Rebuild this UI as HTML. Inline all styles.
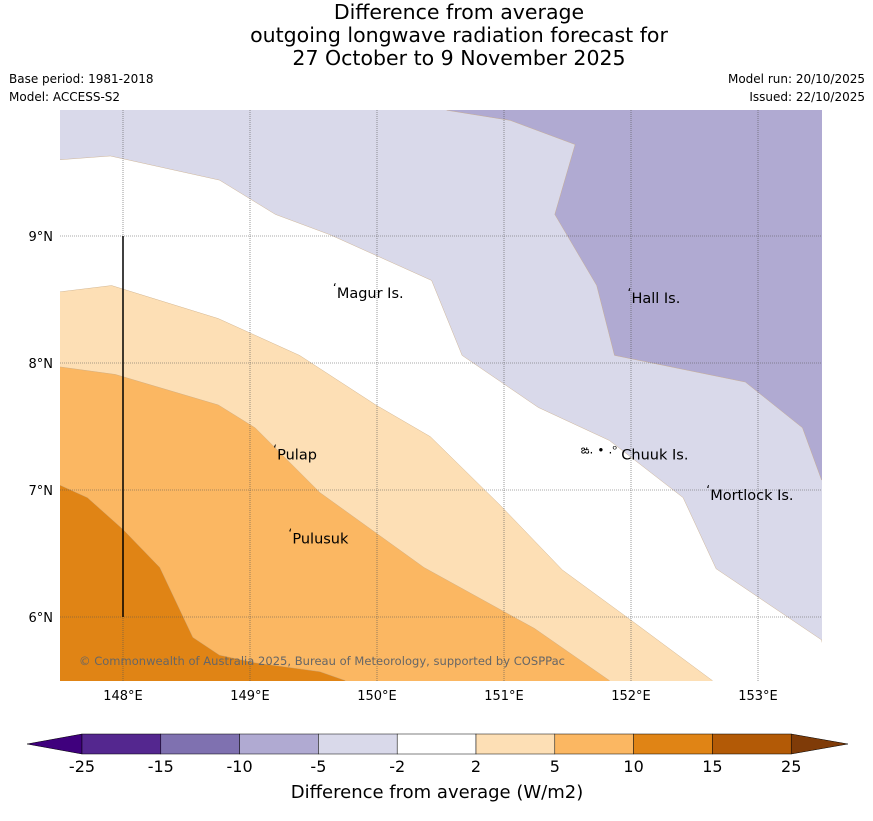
<!DOCTYPE html>
<html><head><meta charset="utf-8"><style>
body{margin:0;background:#fff;font-family:"Liberation Sans","DejaVu Sans",sans-serif;}
svg text{font-family:"DejaVu Sans","Liberation Sans",sans-serif;}
</style></head><body>
<svg id="chart" width="873" height="816" xmlns="http://www.w3.org/2000/svg">
<text x="459" y="19" font-size="20.5" text-anchor="middle">Difference from average</text>
<text x="459" y="42" font-size="20.5" text-anchor="middle">outgoing longwave radiation forecast for</text>
<text x="459" y="65" font-size="20.5" text-anchor="middle">27 October to 9 November 2025</text>
<text x="9" y="83" font-size="12">Base period: 1981-2018</text>
<text x="9" y="101" font-size="12">Model: ACCESS-S2</text>
<text x="865" y="83" font-size="12" text-anchor="end">Model run: 20/10/2025</text>
<text x="865" y="101" font-size="12" text-anchor="end">Issued: 22/10/2025</text>
<defs><clipPath id="mc"><rect x="60" y="110" width="762" height="571"/></clipPath></defs>
<g id="map" clip-path="url(#mc)"></g>
<g id="cb"></g>
<text x="437" y="798" font-size="18" text-anchor="middle">Difference from average (W/m2)</text>
</svg>
<script>
const NS="http://www.w3.org/2000/svg";
const purpleLon=[150.55,151.05,151.56,151.40,151.73,151.87,152.90,153.35,153.5];
const purpleLat=[9.99,9.91,9.72,9.17,8.61,8.06,7.85,7.49,7.08];
const lavLon=[147.5,147.90,148.76,149.20,149.63,150.43,150.67,151.27,151.83,152.41,152.67,153.5];
const lavLat=[9.60,9.63,9.44,9.17,9.01,8.65,8.06,7.65,7.39,6.94,6.38,5.82];
const lorLon=[147.5,147.91,148.75,149.39,149.99,150.42,150.97,151.46,152.02,152.64];
const lorLat=[8.56,8.61,8.35,8.06,7.67,7.42,6.88,6.37,5.96,5.5];
const orLon=[147.5,147.94,148.75,149.04,149.55,150.37,151.24,151.83];
const orLat=[7.97,7.91,7.67,7.49,6.98,6.39,5.91,5.5];
const dkLon=[147.5,147.72,148.0,148.29,148.55,148.76,149.04,149.55,149.75];
const dkLat=[7.04,6.94,6.69,6.39,5.84,5.70,5.64,5.57,5.5];
const lonTicks=[148,149,150,151,152,153];
const latTicks=[6,7,8,9];
const places=["Magur Is.","Hall Is.","Pulap","Chuuk Is.","Mortlock Is.","Pulusuk"];
const placeLon=[149.66,151.98,149.19,151.90,152.60,149.31];
const placeLat=[8.55,8.51,7.28,7.28,6.96,6.62];
const cbLevels=["-25","-15","-10","-5","-2","2","5","10","15","25"];
const cbColors=["#54278f","#7f71b0","#b0aad2","#d9d9ea","#ffffff","#fddfb5","#fbb762","#e08415","#b35a06"];
const X=lon=>59.5+(lon-147.5)*127, Y=lat=>236+(9-lat)*127;
const map=document.getElementById('map');
function poly(lons,lats,extra,fill,name){
  const p=document.createElementNS(NS,'polygon');
  const pts=lons.map((l,i)=>[l,lats[i]]).concat(extra).map(q=>X(q[0])+','+Y(q[1])).join(' ');
  p.setAttribute('points',pts);p.setAttribute('fill',fill);p.setAttribute('stroke','#c8a882');p.setAttribute('stroke-width','0.4');
  
  
  map.appendChild(p);
}
const bg=document.createElementNS(NS,'rect');bg.setAttribute('x',60);bg.setAttribute('y',110);bg.setAttribute('width',762);bg.setAttribute('height',571);bg.setAttribute('fill','#fff');map.appendChild(bg);
poly(lavLon,lavLat,[[153.6,5.4],[153.6,10.1],[147.4,10.1]],'#d9d9ea','contour-neg5-neg2');
poly(purpleLon,purpleLat,[[153.6,7.08],[153.6,10.1],[150.55,10.1]],'#b0aad2','contour-neg10-neg5');
poly(lorLon,lorLat,[[152.64,5.4],[147.4,5.4],[147.4,8.56]],'#fddfb5','contour-2-5');
poly(orLon,orLat,[[151.83,5.4],[147.4,5.4],[147.4,7.97]],'#fbb762','contour-5-10');
poly(dkLon,dkLat,[[149.75,5.4],[147.4,5.4],[147.4,7.04]],'#e08415','contour-10-15');
const svg=document.getElementById('chart');
lonTicks.forEach(l=>{const g=document.createElementNS(NS,'line');g.setAttribute('x1',X(l));g.setAttribute('x2',X(l));g.setAttribute('y1',110);g.setAttribute('y2',681);g.setAttribute('stroke','#555');g.setAttribute('stroke-width','0.6');g.setAttribute('stroke-dasharray','1,1');


map.appendChild(g);
const t=document.createElementNS(NS,'text');t.setAttribute('x',X(l));t.setAttribute('y',700);t.setAttribute('font-size','13');t.setAttribute('text-anchor','middle');t.textContent=l+'°E';


svg.appendChild(t);});
latTicks.forEach(l=>{const g=document.createElementNS(NS,'line');g.setAttribute('y1',Y(l));g.setAttribute('y2',Y(l));g.setAttribute('x1',60);g.setAttribute('x2',822);g.setAttribute('stroke','#555');g.setAttribute('stroke-width','0.6');g.setAttribute('stroke-dasharray','1,1');


map.appendChild(g);
const t=document.createElementNS(NS,'text');t.setAttribute('x',53);t.setAttribute('y',Y(l)+5);t.setAttribute('font-size','13');t.setAttribute('text-anchor','end');t.textContent=l+'°N';


svg.appendChild(t);});
const vl=document.createElementNS(NS,'line');vl.setAttribute('x1',X(148));vl.setAttribute('x2',X(148));vl.setAttribute('y1',Y(9));vl.setAttribute('y2',Y(6));vl.setAttribute('stroke','#000');vl.setAttribute('stroke-width','1.5');


map.appendChild(vl);
places.forEach((n,i)=>{const t=document.createElementNS(NS,'text');t.setAttribute('x',X(placeLon[i])+3);t.setAttribute('y',Y(placeLat[i])+5);t.setAttribute('font-size','14.5');t.setAttribute('font-family','Liberation Sans, sans-serif');t.textContent=n;


map.appendChild(t);
const d=document.createElementNS(NS,'text');d.setAttribute('x',X(placeLon[i])-1);d.setAttribute('y',Y(placeLat[i])-1);d.setAttribute('font-size','12');d.textContent=i==3?'ఙ. ∙ .ᵒ':'ʻ';d.setAttribute('text-anchor',i==3?'end':'start');


map.appendChild(d);});
const cp=document.createElementNS(NS,'text');cp.setAttribute('x',79);cp.setAttribute('y',665);cp.setAttribute('font-size','11.5');cp.setAttribute('fill','#666');cp.setAttribute('textLength','486');cp.textContent='© Commonwealth of Australia 2025, Bureau of Meteorology, supported by COSPPac';


map.appendChild(cp);
const cb=document.getElementById('cb');const x0=82,w=78.8,yT=734,h=20;
const lt=document.createElementNS(NS,'polygon');lt.setAttribute('points',`27,744 ${x0},${yT} ${x0},${yT+h}`);lt.setAttribute('fill','#3f007d');lt.setAttribute('stroke','#000');lt.setAttribute('stroke-width','0.5');


cb.appendChild(lt);
const xe=x0+w*cbColors.length;
const rt=document.createElementNS(NS,'polygon');rt.setAttribute('points',`${xe},${yT} 848,744 ${xe},${yT+h}`);rt.setAttribute('fill','#7f3b08');rt.setAttribute('stroke','#000');rt.setAttribute('stroke-width','0.5');


cb.appendChild(rt);
cbColors.forEach((c,i)=>{const r=document.createElementNS(NS,'rect');r.setAttribute('x',x0+i*w);r.setAttribute('y',yT);r.setAttribute('width',w);r.setAttribute('height',h);r.setAttribute('fill',c);r.setAttribute('stroke','#000');r.setAttribute('stroke-width','0.5');


cb.appendChild(r);});
cbLevels.forEach((l,i)=>{const t=document.createElementNS(NS,'text');t.setAttribute('x',x0+i*w);t.setAttribute('y',772);t.setAttribute('font-size','16');t.setAttribute('text-anchor','middle');t.textContent=l;


cb.appendChild(t);});
</script>
</body></html>
